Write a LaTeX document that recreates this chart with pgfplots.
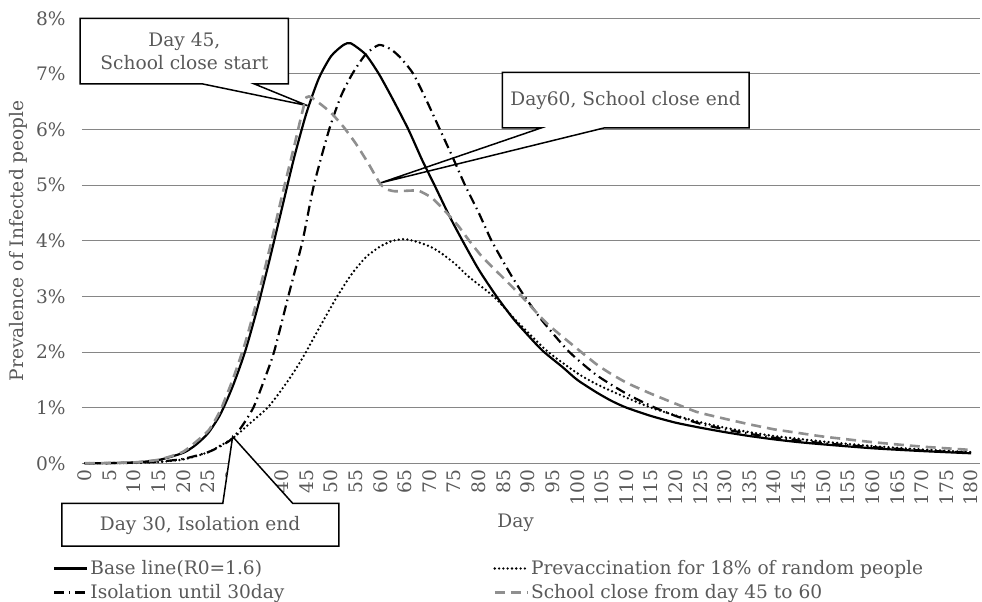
\documentclass[border=0pt]{standalone}
\usepackage{pgfplots}
\pgfplotsset{compat=1.18}
\usepackage{fontspec}
\setmainfont{DejaVu Serif}
\definecolor{txt}{HTML}{595959}
\definecolor{grd}{HTML}{868686}
\definecolor{dgray}{HTML}{8F8F8F}
\newcommand\cf{\fontsize{18.6bp}{23bp}\selectfont}
\begin{document}
\cf
\begin{tikzpicture}
\path[use as bounding box] (-82bp,-138.7bp) rectangle (900bp,463.3bp);
\begin{axis}[
 scale only axis, width=898bp, height=445bp,
 xmin=-0.6, xmax=181.8, ymin=0, ymax=8,
 clip=false,
 axis x line*=bottom, axis y line*=left,
 y axis line style={draw=none},
 x axis line style={draw=grd, line width=0.9bp, -},
 ymajorgrids, grid style={draw=grd, line width=0.9bp},
 xtick={0,5,...,180}, ytick={0,1,...,8},
 yticklabels={0\%,1\%,2\%,3\%,4\%,5\%,6\%,7\%,8\%},
 major tick length=0pt,
 /pgf/number format/assume math mode=true,
 ticklabel style={font=\cf, text=txt},
 xticklabel style={rotate=90, anchor=east},
 yticklabel style={anchor=east, xshift=-10bp},
 xlabel={Day}, ylabel={Prevalence of Infected people},
 label style={font=\cf, text=txt},
 xlabel style={at={(axis description cs:0.483,-0.134)}, anchor=center},
 ylabel style={at={(axis description cs:-0.0713,0.5)}, anchor=center},
 legend columns=2,
 legend cell align=left,
 legend style={draw=none, fill=none, font=\cf, text=txt,
   at={(axis description cs:-0.0356,-0.208)}, anchor=north west,
   row sep=3bp,
   /tikz/every even column/.append style={column sep=207bp}},
 legend image code/.code={\draw[#1] (0bp,0bp) -- (33bp,0bp);},
]
% callouts
\filldraw[fill=white, draw=black, line width=1.5bp, line join=miter]
 (axis cs:-1,8) -- (axis cs:41.3,8) -- (axis cs:41.3,6.82) -- (axis cs:34.4,6.82)
 -- (axis cs:45.2,6.43) -- (axis cs:23.9,6.82) -- (axis cs:-1,6.82) -- cycle;
\node[align=center, text=txt, font=\cf] at (axis cs:20.2,7.40) {Day 45,\\School close start};
\filldraw[fill=white, draw=black, line width=1.5bp, line join=miter]
 (axis cs:84.8,7.03) -- (axis cs:134.9,7.03) -- (axis cs:134.9,6.03) -- (axis cs:105.5,6.03)
 -- (axis cs:60,5.04) -- (axis cs:92.7,6.03) -- (axis cs:84.8,6.03) -- cycle;
\node[text=txt, font=\cf] at (axis cs:109.8,6.53) {Day60, School close end};
\filldraw[fill=white, draw=black, line width=1.5bp, line join=miter]
 (axis cs:-4.7,-0.72) -- (axis cs:28.0,-0.72) -- (axis cs:30,0.48) -- (axis cs:42.2,-0.72)
 -- (axis cs:51.6,-0.72) -- (axis cs:51.6,-1.49) -- (axis cs:-4.7,-1.49) -- cycle;
\node[text=txt, font=\cf] at (axis cs:23.4,-1.11) {Day 30, Isolation end};

% Base line
\addplot[black, line width=2.2bp, smooth, tension=0.4] coordinates {
(0,0) (5,0.005) (10,0.015) (15,0.06) (20,0.19) (22.5,0.33) (25,0.54) (27.5,0.88)
(30,1.38) (32.5,2.0) (35,2.78) (37.5,3.66) (40,4.58) (42.5,5.5) (45,6.3) (47.5,6.92)
(50,7.32) (52.5,7.52) (54,7.55) (57,7.35) (59.7,7.0) (62.5,6.55) (65.7,6.0) (68.5,5.45)
(71,5.0) (74,4.45) (76.7,4.0) (80,3.48) (83.6,3.0) (87,2.6) (90,2.3) (93,2.02) (97,1.73)
(100,1.5) (104,1.27) (107,1.12) (110,1.0) (115,0.85) (120,0.73) (125,0.64) (130,0.56) (135,0.49)
(140,0.43) (145,0.38) (150,0.34) (160,0.27) (170,0.22) (180,0.18)};
\addlegendentry{Base line(R0=1.6)}
% Prevaccination
\addplot[black, line width=2.6bp, line cap=round, dash pattern=on 0bp off 4.3bp, smooth, tension=0.4] coordinates {
(0,0) (5,0.002) (10,0.008) (15,0.025) (20,0.07) (25,0.2) (30,0.45) (33,0.68) (37.1,1.0)
(40,1.33) (42.5,1.65) (44.7,1.97) (47.5,2.42) (50.9,2.95) (54,3.38) (57,3.7) (60,3.9)
(62.5,4.0) (65,4.03) (67.5,3.98) (70,3.9) (72,3.8) (75,3.6) (78,3.35) (83,3.0) (87,2.62)
(90,2.35) (94.1,2.0) (100,1.62) (104.2,1.41) (110,1.18) (115,1.0) (120,0.86) (124.4,0.75)
(130,0.64) (135,0.56) (140,0.49) (145,0.44) (150,0.39) (160,0.31) (170,0.25) (180,0.2)};
\addlegendentry{Prevaccination for 18\% of random people}
% Isolation
\addplot[black, line width=2.2bp, dash pattern=on 10bp off 4.5bp on 1.5bp off 4.5bp, smooth, tension=0.4] coordinates {
(0,0) (5,0.003) (10,0.01) (15,0.03) (20,0.08) (25,0.2) (28,0.33) (30,0.45) (32,0.68)
(34.2,1.0) (36,1.4) (38.4,2.0) (41.3,3.0) (44.2,4.0) (46.5,5.0) (49.6,6.0) (52,6.6)
(54.3,7.0) (57,7.35) (59.7,7.52) (62,7.45) (64,7.3) (66.7,7.0) (69.5,6.5) (72.1,6.0)
(74.7,5.5) (77.2,5.0) (80,4.5) (82.6,4.0) (86.3,3.42) (89.3,3.0) (93,2.55) (98.4,2.0)
(104,1.58) (110,1.25) (115,1.03) (120,0.85) (125,0.71) (130,0.61) (135,0.53) (140,0.46)
(145,0.41) (150,0.36) (160,0.29) (170,0.23) (180,0.19)};
\addlegendentry{Isolation until 30day}
% School close
\addplot[dgray, line width=2.6bp, dash pattern=on 10bp off 6bp, smooth, tension=0.3] coordinates {
(0,0) (5,0.005) (10,0.016) (15,0.065) (20,0.21) (25,0.58) (27.5,0.95) (30,1.5) (32.5,2.15)
(35,2.95) (37.5,3.85) (40,4.8) (42.5,5.7) (45,6.58) (47.5,6.48) (50,6.3) (52.5,6.05)
(55,5.75) (57.5,5.4) (60,5.02) (61.5,4.92) (63,4.89) (65.5,4.9) (67.8,4.9) (70.5,4.77)
(73.2,4.53) (75.9,4.26) (77.9,4.02) (80.6,3.72) (85,3.33) (88.7,3.0) (94,2.5) (100.8,2.0)
(104.2,1.76) (107,1.6) (110.2,1.44) (115,1.25) (120,1.07) (124.4,0.92) (130,0.8) (135,0.7)
(140,0.61) (144.6,0.55) (150,0.48) (160,0.38) (170,0.3) (180,0.24)};
\addlegendentry{School close from day 45 to 60}
\end{axis}
\end{tikzpicture}
\end{document}
